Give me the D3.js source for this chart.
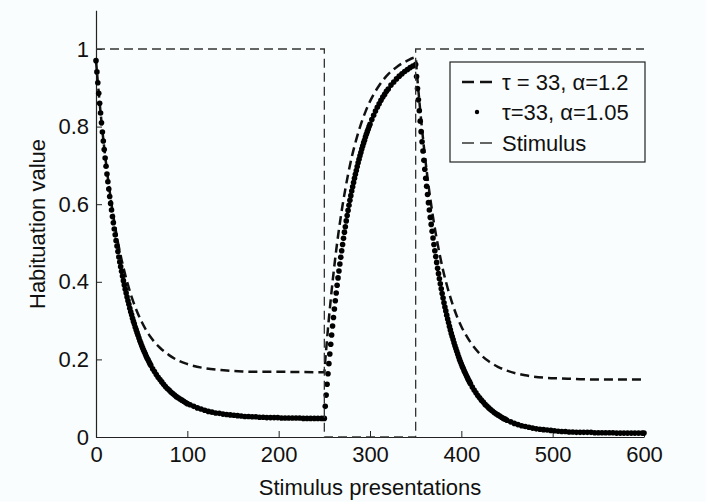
<!DOCTYPE html>
<html><head><meta charset="utf-8">
<script src="https://cdn.jsdelivr.net/npm/d3@7"></script>
<style>html,body{margin:0;padding:0;background:#fafdfd;}svg{display:block;}</style>
</head><body>
<svg id="chart" width="706" height="502"></svg>
<script>
// ---- data ----
const xTicks = [0, 100, 200, 300, 400, 500, 600];
const yTicks = [0, 0.2, 0.4, 0.6, 0.8, 1];
const yTickLabels = ["0", "0.2", "0.4", "0.6", "0.8", "1"];
const legendLabels = ["\u03C4 = 33, \u03B1=1.2", "\u03C4=33, \u03B1=1.05", "Stimulus"];

// stimulus on/off
const stimulus = [[0,1],[250,1],[250,0],[350,0],[350,1],[600,1]];

// tau=33, alpha=1.2 (dashed)
const dashedHabit1 = [[0,0.970],[2,0.914],[4,0.861],[6,0.813],[8,0.767],[10,0.725],[12,0.686],[14,0.650],[16,0.616],[18,0.584],[20,0.555],[22,0.528],[24,0.502],[26,0.479],[28,0.457],[30,0.437],[32,0.418],[34,0.400],[36,0.384],[38,0.368],[40,0.354],[45,0.323],[50,0.297],[55,0.275],[60,0.257],[65,0.242],[70,0.230],[80,0.211],[90,0.197],[100,0.188],[120,0.177],[140,0.172],[160,0.169],[180,0.168],[200,0.168],[250,0.167]];
const dashedRecovery = [[251,0.197],[252,0.225],[253,0.253],[254,0.280],[255,0.306],[256,0.330],[258,0.377],[260,0.421],[262,0.462],[264,0.500],[266,0.535],[268,0.567],[270,0.598],[273,0.639],[276,0.677],[280,0.721],[285,0.767],[290,0.806],[295,0.838],[300,0.865],[310,0.906],[320,0.935],[330,0.955],[340,0.969],[350,0.978]];
const dashedHabit2 = [[351,0.949],[352,0.920],[353,0.893],[354,0.867],[355,0.841],[356,0.817],[358,0.770],[360,0.727],[362,0.687],[364,0.649],[366,0.615],[368,0.582],[370,0.552],[373,0.511],[376,0.474],[380,0.430],[385,0.384],[390,0.345],[395,0.312],[400,0.285],[405,0.263],[410,0.244],[420,0.215],[430,0.195],[440,0.181],[450,0.171],[470,0.159],[490,0.153],[510,0.151],[530,0.149],[550,0.148],[600,0.148]];

// tau=33, alpha=1.05 (dots)
const dotsHabit1 = [[0,0.970],[1,0.941],[2,0.913],[3,0.886],[4,0.860],[5,0.835],[6,0.810],[7,0.786],[8,0.763],[9,0.741],[10,0.719],[11,0.698],[12,0.678],[13,0.658],[14,0.639],[15,0.620],[16,0.602],[17,0.585],[18,0.568],[19,0.552],[20,0.536],[21,0.521],[22,0.506],[23,0.492],[24,0.478],[25,0.464],[26,0.451],[27,0.439],[28,0.427],[29,0.415],[30,0.403],[31,0.392],[32,0.381],[33,0.371],[34,0.361],[35,0.351],[36,0.342],[37,0.332],[38,0.323],[39,0.315],[40,0.306],[41,0.298],[42,0.291],[43,0.283],[44,0.276],[45,0.269],[46,0.262],[47,0.255],[48,0.248],[49,0.242],[50,0.236],[51,0.230],[52,0.224],[53,0.219],[54,0.214],[55,0.208],[56,0.203],[57,0.199],[58,0.194],[59,0.189],[60,0.185],[62,0.176],[64,0.169],[66,0.161],[68,0.154],[70,0.148],[72,0.142],[74,0.136],[76,0.130],[78,0.125],[80,0.121],[82,0.116],[84,0.112],[86,0.108],[88,0.104],[90,0.101],[92,0.098],[94,0.095],[96,0.092],[98,0.089],[100,0.086],[103,0.083],[107,0.079],[111,0.075],[115,0.072],[119,0.069],[123,0.066],[127,0.064],[131,0.062],[135,0.061],[139,0.059],[143,0.058],[147,0.057],[151,0.056],[155,0.055],[159,0.054],[163,0.053],[167,0.053],[171,0.052],[175,0.052],[179,0.051],[183,0.051],[187,0.050],[191,0.050],[195,0.050],[199,0.050],[203,0.049],[207,0.049],[211,0.049],[215,0.049],[219,0.049],[223,0.049],[227,0.048],[231,0.048],[235,0.048],[239,0.048],[243,0.048],[247,0.048],[250,0.048]];
const dotsRecovery = [[251,0.079],[252,0.108],[253,0.136],[254,0.163],[255,0.189],[256,0.214],[257,0.239],[258,0.263],[259,0.286],[260,0.308],[261,0.330],[262,0.351],[263,0.371],[264,0.391],[265,0.410],[266,0.428],[267,0.446],[268,0.463],[269,0.480],[270,0.496],[271,0.512],[272,0.528],[273,0.542],[274,0.557],[275,0.571],[276,0.584],[277,0.597],[278,0.610],[279,0.622],[280,0.634],[281,0.645],[282,0.656],[283,0.667],[284,0.677],[285,0.687],[286,0.697],[287,0.707],[288,0.716],[289,0.725],[290,0.733],[291,0.742],[292,0.750],[293,0.758],[294,0.765],[295,0.773],[296,0.780],[297,0.787],[298,0.793],[299,0.800],[300,0.806],[302,0.818],[304,0.829],[306,0.840],[308,0.850],[310,0.859],[312,0.868],[314,0.876],[316,0.883],[318,0.891],[320,0.897],[323,0.907],[326,0.915],[329,0.923],[332,0.930],[335,0.936],[338,0.942],[341,0.947],[344,0.952],[347,0.956],[350,0.960]];
const dotsHabit2 = [[351,0.929],[352,0.898],[353,0.869],[354,0.841],[355,0.814],[356,0.787],[357,0.761],[358,0.737],[359,0.713],[360,0.690],[361,0.667],[362,0.646],[363,0.625],[364,0.604],[365,0.585],[366,0.566],[367,0.548],[368,0.530],[369,0.513],[370,0.496],[371,0.480],[372,0.465],[373,0.450],[374,0.435],[375,0.421],[376,0.408],[377,0.395],[378,0.382],[379,0.370],[380,0.358],[381,0.346],[382,0.335],[383,0.325],[384,0.314],[385,0.304],[386,0.295],[387,0.285],[388,0.276],[389,0.267],[390,0.259],[391,0.251],[392,0.243],[393,0.235],[394,0.228],[395,0.221],[396,0.214],[397,0.207],[398,0.200],[399,0.194],[400,0.188],[401,0.182],[402,0.177],[403,0.171],[404,0.166],[405,0.161],[406,0.156],[407,0.151],[408,0.146],[409,0.142],[410,0.137],[412,0.129],[414,0.121],[416,0.114],[418,0.107],[420,0.101],[422,0.095],[424,0.090],[426,0.084],[428,0.080],[430,0.075],[432,0.071],[434,0.067],[436,0.063],[438,0.060],[440,0.057],[442,0.054],[444,0.051],[446,0.048],[448,0.046],[450,0.043],[454,0.039],[458,0.035],[462,0.032],[466,0.029],[470,0.027],[474,0.025],[478,0.023],[482,0.021],[486,0.020],[490,0.019],[494,0.018],[498,0.017],[502,0.016],[506,0.015],[510,0.014],[514,0.014],[518,0.013],[522,0.013],[526,0.012],[530,0.012],[534,0.012],[538,0.012],[542,0.012],[546,0.011],[550,0.011],[554,0.011],[558,0.011],[562,0.011],[566,0.011],[570,0.010],[574,0.010],[578,0.010],[582,0.010],[586,0.010],[590,0.010],[594,0.010],[598,0.010],[600,0.010]];

// ---- drawing ----
const FONT = "'Liberation Sans', Arial, Helvetica, sans-serif";
const svg = d3.select("#chart");
svg.append("rect").attr("width",706).attr("height",502).attr("fill","#fafdfd");

const x = d3.scaleLinear().domain([0, 600]).range([96, 644]);
const y = d3.scaleLinear().domain([0, 1.1]).range([437, 10.2]);

const gx = svg.append("g").attr("transform","translate(0,437)")
  .call(d3.axisBottom(x).tickValues(xTicks).tickSizeInner(-6).tickSizeOuter(0).tickPadding(9));
const gy = svg.append("g").attr("transform","translate(96,0)")
  .call(d3.axisLeft(y).tickValues(yTicks).tickFormat((d,i)=>yTickLabels[i]).tickSizeInner(-6).tickSizeOuter(0).tickPadding(7));
[gx, gy].forEach(g => {
  g.attr("font-size", 22).attr("font-family", FONT);
  g.selectAll("text").attr("fill", "#111");
  g.selectAll("line").attr("stroke", "#222");
  g.select(".domain").attr("stroke", "#222").attr("stroke-width", 1.2);
});

svg.append("text").attr("x", 370).attr("y", 495).attr("text-anchor","middle")
  .attr("font-family", FONT).attr("font-size", 22).attr("fill","#111").text("Stimulus presentations");
svg.append("text").attr("transform","translate(45,224) rotate(-90)").attr("text-anchor","middle")
  .attr("font-family", FONT).attr("font-size", 22).attr("fill","#111").text("Habituation value");

const line = d3.line().x(d => x(d[0])).y(d => y(d[1]));
const smooth = d3.line().x(d => x(d[0])).y(d => y(d[1])).curve(d3.curveMonotoneX);

// dashed series
const dashedAll = dashedHabit1.concat(dashedRecovery, dashedHabit2);
svg.append("path").datum(dashedAll).attr("d", smooth).attr("fill","none")
  .attr("stroke","#111").attr("stroke-width",2.5).attr("stroke-dasharray","9,5");

// dot series
const dotsAll = dotsHabit1.concat(dotsRecovery, dotsHabit2);
svg.append("g").selectAll("circle").data(dotsAll).join("circle")
  .attr("cx", d => x(d[0])).attr("cy", d => y(d[1])).attr("r", 2.8).attr("fill","#000");

// stimulus
svg.append("path").datum(stimulus).attr("d", line).attr("fill","none")
  .attr("stroke","#333").attr("stroke-width",1.3).attr("stroke-dasharray","9,5");

// legend
const lg = svg.append("g");
lg.append("rect").attr("x",450).attr("y",62).attr("width",195).attr("height",100)
  .attr("fill","#fafdfd").attr("stroke","#222").attr("stroke-width",1.2);
const rowsY = [82, 112, 143];
lg.append("line").attr("x1",462).attr("x2",492).attr("y1",rowsY[0]).attr("y2",rowsY[0])
  .attr("stroke","#111").attr("stroke-width",2.5).attr("stroke-dasharray","12,6");
lg.append("circle").attr("cx",477).attr("cy",rowsY[1]).attr("r",2.2).attr("fill","#000");
lg.append("line").attr("x1",462).attr("x2",492).attr("y1",rowsY[2]).attr("y2",rowsY[2])
  .attr("stroke","#333").attr("stroke-width",1.3).attr("stroke-dasharray","12,6");
lg.selectAll("text.lab").data(legendLabels).join("text").attr("class","lab")
  .attr("x",502).attr("y",(d,i)=>rowsY[i]+7.5)
  .attr("font-family", FONT).attr("font-size", 22).attr("fill","#111").text(d=>d);
</script>
</body></html>
